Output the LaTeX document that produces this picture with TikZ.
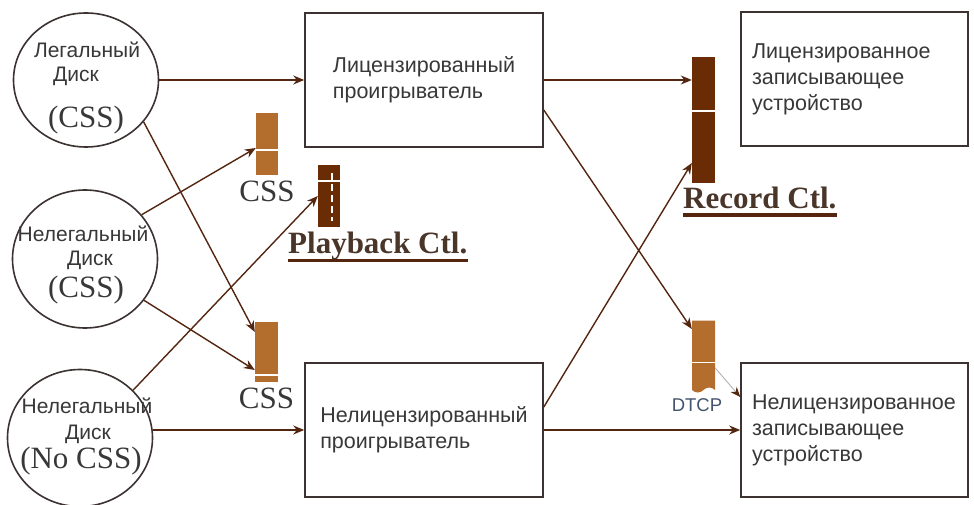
\documentclass[tikz,border=0pt]{standalone}
\usepackage{fontspec}
\setmainfont{Liberation Sans}
\newfontfamily\timesfont{Liberation Serif}
\usetikzlibrary{positioning,arrows.meta,shapes.geometric,shapes.symbols,calc}
\definecolor{ArrBrown}{HTML}{542610}
\definecolor{LineGray}{HTML}{3C3232}
\definecolor{TextGray}{HTML}{383838}
\definecolor{GateLight}{HTML}{B36E2E}
\definecolor{GateDark}{HTML}{6A2C05}
\definecolor{CtlText}{HTML}{4A3529}
\definecolor{DtcpBlue}{HTML}{44546E}

\begin{document}
\begin{tikzpicture}[
  x=1pt, y=-1pt,
  disk/.style={ellipse, draw=LineGray, line width=1.6pt, minimum width=145pt, minimum height=134pt, inner sep=0pt},
  box/.style={rectangle, draw=LineGray, line width=1.6pt, minimum height=134pt, align=left, text=TextGray, font=\fontsize{21.5}{26}\selectfont},
  gateLight/.style={rectangle, fill=GateLight, minimum width=22pt, inner sep=0pt},
  gateDark/.style={rectangle, fill=GateDark, minimum width=22pt, inner sep=0pt},
  sans/.style={text=TextGray, font=\fontsize{21}{24}\selectfont, inner sep=0pt},
  serif/.style={text=TextGray, font=\timesfont\fontsize{31}{32}\selectfont, inner sep=0pt},
  ctl/.style={text=CtlText, font=\timesfont\bfseries\fontsize{31}{32}\selectfont, inner sep=0pt},
  ul/.style={draw=ArrBrown, line width=3pt},
  gap/.style={draw=white, line width=1.5pt},
  arr/.style={-{Stealth[length=11pt,width=9pt]}, draw=ArrBrown, line width=1.4pt},
  tarr/.style={-{Stealth[length=10pt,width=8pt,color=ArrBrown]}, draw=gray!60, line width=0.9pt}
]
\path[use as bounding box, fill=white] (0,0) rectangle (974,505);

% discs
\node[disk]                        (disk1) at (86,80)  {};
\node[disk, minimum height=138pt]  (disk2) at (85,259) {};
\node[disk, minimum height=137pt]  (disk3) at (80,438) {};

\node[sans]  (d1a) at (87,50)  {Легальный};
\node[sans]  (d1b) at (76,76)  {Диск};
\node[serif] (d1c) at (86,120) {(CSS)};
\node[sans]  (d2a) at (83,234) {Нелегальный};
\node[sans]  (d2b) at (90,260) {Диск};
\node[serif] (d2c) at (86,290) {(CSS)};
\node[sans]  (d3a) at (87,406) {Нелегальный};
\node[sans]  (d3b) at (88,434) {Диск};
\node[serif] (d3c) at (81,461) {(No CSS)};

% players and recorders
\node[box, minimum width=238pt]               (lplayer) at (424,80)    {Лицензированный\\проигрыватель};
\node[box, minimum width=238pt]               (uplayer) at (424,430)   {Нелицензированный\\проигрыватель};
\node[box, text width=205pt, inner xsep=11pt] (lrec)    at (854.5,79)  {Лицензированное\\записывающее\\устройство};
\node[box, text width=205pt, inner xsep=11pt] (urec)    at (854.5,430) {Нелицензированное\\записывающее\\устройство};

% gates
\node[gateLight, minimum height=62pt]                     (cssA) at (267,144)   {};
\node[gateDark,  minimum height=62pt]                     (play) at (329,196)   {};
\node[gateLight, minimum height=60pt, minimum width=23pt]  (cssB) at (266.5,352) {};
\node[gateDark,  minimum height=126pt, minimum width=23pt] (rec)  at (703.5,120) {};
\node[gateLight, tape, tape bend top=none, minimum height=72pt, minimum width=23pt] (dtcp) at (703.5,354) {};

\draw[gap] ([yshift=-37pt]cssA.north west) -- ([yshift=-37pt]cssA.north east);
\draw[gap] ([yshift=-16pt]play.north west) -- ([yshift=-16pt]play.north east);
\draw[gap, line width=1.2pt, dash pattern=on 7pt off 4pt] ([xshift=3pt,yshift=-8pt]play.north) -- ([xshift=3pt,yshift=-56pt]play.north);
\draw[gap] ([yshift=-53pt]cssB.north west) -- ([yshift=-53pt]cssB.north east);
\draw[gap] ([yshift=-54pt]rec.north west)  -- ([yshift=-54pt]rec.north east);
\draw[gap] ([yshift=-42pt]dtcp.north west) -- ([yshift=-42pt]dtcp.north east);

% labels
\node[serif, below=6pt of cssA] (cssAl) {CSS};
\node[serif, below=6pt of cssB] (cssBl) {CSS};
\node[ctl, anchor=base west] (pbl) at (288,253) {Playback Ctl.};
\node[ctl, anchor=base west] (rcl) at (683,208) {Record Ctl.};
\draw[ul] ([yshift=-7pt]pbl.base west) -- ([yshift=-7pt]pbl.base east);
\draw[ul] ([yshift=-7pt]rcl.base west) -- ([yshift=-7pt]rcl.base east);
\node[sans, font=\fontsize{18.5}{20}\selectfont, text=DtcpBlue] (dtcpl) at (697,405) {DTCP};

% connectors
\draw[arr] (disk1.east) -- (lplayer.west);
\draw[arr] (disk1.-36) -- ([yshift=20pt]cssB.west);
\draw[arr] (disk2.38) -- ([yshift=-4pt]cssA.west);
\draw[arr] (disk2.-35) -- ([yshift=-18pt]cssB.west);
\draw[arr] (disk3.42) -- (play.west);
\draw[arr] (disk3.east |- uplayer.west) -- (uplayer.west);
\draw[arr] (lplayer.east) -- (lplayer.east -| rec.west);
\draw[arr] ([yshift=-30pt]lplayer.east) -- ([yshift=25pt]dtcp.west);
\draw[arr] ([yshift=23pt]uplayer.east) -- ([yshift=-43pt]rec.west);
\draw[arr] (uplayer.east) -- (uplayer.east -| urec.west);
\draw[tarr] ([yshift=-14pt]dtcp.east) -- ([yshift=33pt]urec.west);
\end{tikzpicture}
\end{document}
